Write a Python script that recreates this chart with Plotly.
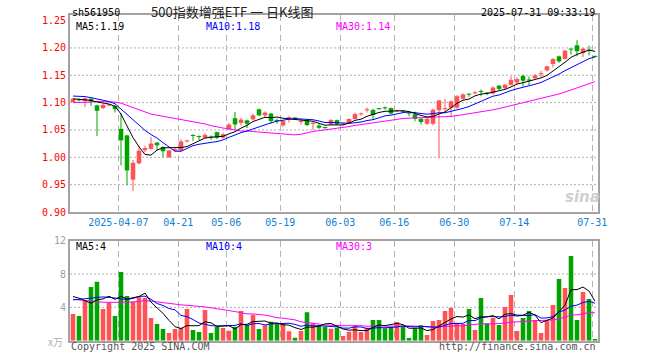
import plotly.graph_objects as go
import pandas as pd
import numpy as np

# ---------------- data ----------------
dates = ["2025-03-25","2025-03-26","2025-03-27","2025-03-28","2025-03-31",
"2025-04-01","2025-04-02","2025-04-03","2025-04-07","2025-04-08","2025-04-09","2025-04-10","2025-04-11",
"2025-04-14","2025-04-15","2025-04-16","2025-04-17","2025-04-18","2025-04-21","2025-04-22","2025-04-23",
"2025-04-24","2025-04-25","2025-04-28","2025-04-29","2025-04-30",
"2025-05-06","2025-05-07","2025-05-08","2025-05-09","2025-05-12","2025-05-13","2025-05-14","2025-05-15",
"2025-05-16","2025-05-19","2025-05-20","2025-05-21","2025-05-22","2025-05-23","2025-05-26","2025-05-27",
"2025-05-28","2025-05-29","2025-05-30",
"2025-06-03","2025-06-04","2025-06-05","2025-06-06","2025-06-09","2025-06-10","2025-06-11","2025-06-12",
"2025-06-13","2025-06-16","2025-06-17","2025-06-18","2025-06-19","2025-06-20","2025-06-23","2025-06-24",
"2025-06-25","2025-06-26","2025-06-27","2025-06-30",
"2025-07-01","2025-07-02","2025-07-03","2025-07-04","2025-07-07","2025-07-08","2025-07-09","2025-07-10",
"2025-07-11","2025-07-14","2025-07-15","2025-07-16","2025-07-17","2025-07-18","2025-07-21","2025-07-22",
"2025-07-23","2025-07-24","2025-07-25","2025-07-28","2025-07-29","2025-07-30","2025-07-31"]

opens = [1.101,1.106,1.103,1.107,1.095,1.090,1.095,1.094,1.052,1.040,
0.959,0.989,1.013,1.0155,1.027,1.019,1.000,1.012,1.0125,1.029,
1.040,1.038,1.036,1.037,1.046,1.036,1.051,1.0715,1.063,1.0676,
1.0694,1.0878,1.0767,1.080,1.0676,1.0584,1.0712,1.0715,1.0645,1.068,
1.061,1.058,1.0545,1.060,1.068,1.060,1.062,1.070,1.0785,1.086,
1.0866,1.0885,1.090,1.090,1.0845,1.0838,1.081,1.0786,1.0706,1.0614,
1.0614,1.086,1.0878,1.0908,1.0908,1.107,1.1150,1.117,1.120,1.117,
1.1165,1.131,1.1263,1.1325,1.1367,1.149,1.1410,1.1447,1.152,1.1589,
1.1705,1.1846,1.1797,1.1975,1.2049,1.1908,1.1957,1.1850]

highs = [1.108,1.108,1.109,1.109,1.096,1.097,1.098,1.096,1.080,1.041,
0.995,1.021,1.021,1.037,1.028,1.020,1.013,1.017,1.033,1.032,
1.042,1.040,1.044,1.040,1.047,1.045,1.063,1.083,1.072,1.069,
1.080,1.089,1.084,1.081,1.0706,1.068,1.0755,1.073,1.0705,1.0695,
1.065,1.062,1.0555,1.070,1.069,1.063,1.071,1.082,1.082,1.091,
1.089,1.090,1.093,1.091,1.087,1.0855,1.083,1.0835,1.071,1.071,
1.089,1.105,1.107,1.104,1.114,1.117,1.117,1.121,1.124,1.119,
1.130,1.132,1.134,1.148,1.1465,1.151,1.148,1.152,1.158,1.168,
1.1815,1.186,1.196,1.1988,1.2141,1.200,1.2043,1.186]

lows = [1.100,1.102,1.092,1.094,1.039,1.088,1.093,1.082,0.985,0.949,
0.938,0.987,1.009,1.014,1.013,1.000,0.999,1.010,1.011,1.027,
1.030,1.031,1.034,1.032,1.033,1.034,1.050,1.051,1.058,1.0535,
1.0676,1.0755,1.0737,1.0614,1.0614,1.0553,1.0635,1.069,1.060,1.057,
1.050,1.052,1.052,1.059,1.059,1.058,1.061,1.069,1.076,1.082,
1.068,1.087,1.087,1.0785,1.083,1.081,1.075,1.066,1.060,1.059,
1.058,0.999,1.085,1.0737,1.089,1.105,1.1105,1.115,1.1116,1.1135,
1.115,1.123,1.124,1.131,1.1325,1.1294,1.132,1.1435,1.146,1.157,
1.1644,1.1724,1.179,1.1877,1.1846,1.1834,1.1865,1.182]

closes = [1.107,1.104,1.108,1.102,1.085,1.096,1.0955,1.088,1.031,0.976,
0.990,1.012,1.017,1.025,1.022,1.011,1.0125,1.015,1.029,1.0305,
1.039,1.037,1.041,1.036,1.036,1.042,1.060,1.060,1.069,1.0614,
1.0767,1.0767,1.0818,1.0664,1.0663,1.0663,1.0722,1.0710,1.0655,1.059,
1.0615,1.054,1.0535,1.068,1.060,1.0605,1.070,1.079,1.079,1.0866,
1.0774,1.088,1.0895,1.080,1.085,1.0832,1.080,1.0706,1.0645,1.0706,
1.087,1.104,1.089,1.1024,1.1116,1.115,1.1145,1.118,1.1195,1.1165,
1.1275,1.125,1.1325,1.1417,1.143,1.140,1.1404,1.1497,1.1527,1.1662,
1.1797,1.1754,1.1951,1.1969,1.1939,1.1988,1.1951,1.1835]

# volume in 10k lots
volumes = [3.2,2.96,4.8,6.44,7.08,3.8,4.56,2.96,8.24,5.36,
4.68,5.2,5.12,2.72,2.0,1.4,0.92,1.4,1.56,3.8,
1.28,1.04,3.68,0.92,1.68,1.52,1.2,1.68,3.56,1.88,
3.12,1.4,1.84,2.28,2.0,2.08,1.12,0.36,1.16,3.4,
2.08,1.76,1.68,1.44,1.56,0.56,1.08,1.84,1.04,1.56,
2.48,2.48,1.48,1.68,2.24,1.76,0.32,1.48,1.84,0.68,
2.36,2.48,3.56,3.96,2.16,2.0,3.8,1.28,5.12,2.08,
2.76,1.88,4.04,5.48,1.16,2.72,3.56,2.48,0.92,2.4,
4.28,7.4,6.32,10.16,2.48,5.84,5.0,0.2]

# moving-average values before the window is full
ma5_head = [1.107, 1.106, 1.105, 1.104]
ma10_head = [1.112, 1.112, 1.111, 1.109, 1.107, 1.104, 1.102, 1.098, 1.088]
ma30_head = [1.100,1.100,1.101,1.101,1.102,1.102,1.102,1.101,1.099,1.095,
             1.091,1.087,1.083,1.079,1.077,1.075,1.073,1.0715,1.070,1.067,
             1.0655,1.064,1.061,1.058,1.0555,1.0535,1.052,1.0495,1.048]
vma5_head = [5.3, 5.1, 4.8, 4.5]
vma10_head = [4.9, 4.95, 5.0, 5.1, 5.2, 5.25, 5.2, 5.1, 4.95]
vma30_head = [4.96,4.92,4.84,4.76,4.65,4.6,4.6,4.6,4.6,4.6,
              4.65,4.72,4.8,4.75,4.65,4.55,4.42,4.35,4.3,4.25,
              4.2,4.1,4.05,3.95,3.85,3.7,3.6,3.5,3.35]

tick_dates = ["2025-04-07","2025-04-21","2025-05-06","2025-05-19","2025-06-03",
              "2025-06-16","2025-06-30","2025-07-14","2025-07-31"]
tick_labels = ["2025-04-07","04-21","05-06","05-19","06-03","06-16","06-30","07-14","07-31"]
price_ticks = [0.90, 0.95, 1.00, 1.05, 1.10, 1.15, 1.20, 1.25]
price_grid = [0.95, 1.00, 1.05, 1.10, 1.15, 1.20]
vol_ticks = [4, 8, 12]
vol_grid = [4, 8]

# ---------------- helpers ----------------
def moving(vals, n, head):
    s = pd.Series(vals, dtype=float).rolling(n).mean().to_numpy()
    s[:n - 1] = head
    return s

FW, FH = 660, 360
L, R = 70, 598
PT, PB = 15, 212
VT, VB = 240.7, 340.7
def px(sx): return sx / FW
def py(sy): return (FH - sy) / FH

RED = "#ff5252"
GREEN = "#00a400"
MONO = "DejaVu Sans Mono"

n = len(dates)
idx = list(range(n))
up = [c >= o for o, c in zip(opens, closes)]
colors = [RED if u else GREEN for u in up]

ma5 = moving(closes, 5, ma5_head)
ma10 = moving(closes, 10, ma10_head)
ma30 = moving(closes, 30, ma30_head)
vma5 = moving(volumes, 5, vma5_head)
vma10 = moving(volumes, 10, vma10_head)
vma30 = moving(volumes, 30, vma30_head)

fig = go.Figure()

# wicks
for flag, col in ((True, RED), (False, GREEN)):
    wx, wy = [], []
    for i in idx:
        if up[i] == flag:
            wx += [i, i, None]
            wy += [lows[i], highs[i], None]
    fig.add_trace(go.Scatter(x=wx, y=wy, mode="lines", line=dict(color=col, width=1),
                             hoverinfo="skip", showlegend=False, xaxis="x", yaxis="y"))

# bodies
body_base = [min(o, c) for o, c in zip(opens, closes)]
body_h = [max(abs(c - o), 0.0019) for o, c in zip(opens, closes)]
fig.add_trace(go.Bar(x=idx, y=body_h, base=body_base, width=0.76,
                     marker=dict(color=colors, line=dict(width=0)),
                     showlegend=False, xaxis="x", yaxis="y"))

for arr, col in ((ma30, "#ff00ff"), (ma10, "#0000ff"), (ma5, "#000000")):
    fig.add_trace(go.Scatter(x=idx, y=arr, mode="lines", line=dict(color=col, width=1),
                             showlegend=False, xaxis="x", yaxis="y"))

# volume
fig.add_trace(go.Bar(x=idx, y=volumes, width=0.76,
                     marker=dict(color=colors, line=dict(width=0)),
                     showlegend=False, xaxis="x2", yaxis="y2"))
for arr, col in ((vma30, "#ff00ff"), (vma10, "#0000ff"), (vma5, "#000000")):
    fig.add_trace(go.Scatter(x=idx, y=arr, mode="lines", line=dict(color=col, width=1),
                             showlegend=False, xaxis="x2", yaxis="y2"))

tickvals = [dates.index(d) - 0.45 for d in tick_dates]
axis_common = dict(showline=True, mirror=True, linecolor="#a3a3a3", linewidth=2,
                   zeroline=False, fixedrange=True, ticks="", automargin=False)
xcommon = dict(range=[-0.5, n - 0.5], tickvals=tickvals, showgrid=True,
               gridcolor="#b4b4b4", gridwidth=1, griddash="6px,4px",
               domain=[px(L), px(R)], **axis_common)

shapes = []
for g in price_grid:
    shapes.append(dict(type="line", xref="x domain", yref="y", x0=0, x1=1, y0=g, y1=g,
                       line=dict(color="#b0b0b0", width=1, dash="2px,2px"), layer="below"))
for g in vol_grid:
    shapes.append(dict(type="line", xref="x2 domain", yref="y2", x0=0, x1=1, y0=g, y1=g,
                       line=dict(color="#b0b0b0", width=1, dash="2px,2px"), layer="below"))

def txt(x, y, s, color="#000000", size=10, xanchor="left", family=MONO, **kw):
    return dict(x=px(x), y=py(y), xref="paper", yref="paper", text=s, showarrow=False,
                xanchor=xanchor, yanchor="middle", font=dict(family=family, size=size, color=color, **kw))

annotations = [
    txt(70, 12.5, "sh561950"),
    txt(232, 11.5, "500指数增强ETF 一 日K线图", color="#222222", size=13,
        xanchor="center", family="Noto Sans CJK SC"),
    txt(597, 12.5, "2025-07-31 09:33:19", xanchor="right"),
    txt(74, 26.5, "MA5:%.2f" % ma5[-1]),
    txt(204, 26.5, "MA10:%.2f" % ma10[-1], color="#0000ff"),
    txt(334, 26.5, "MA30:%.2f" % ma30[-1], color="#ff00ff"),
    txt(74, 246, "MA5:%d" % int(vma5[-1])),
    txt(204, 246, "MA10:%d" % int(vma10[-1]), color="#0000ff"),
    txt(334, 246, "MA30:%d" % int(vma30[-1]), color="#ff00ff"),
    txt(69, 346, "Copyright 2025 SINA.COM", color="#555555"),
    txt(598, 346, "http://finance.sina.com.cn", color="#555555", xanchor="right"),
    txt(65, 341, "x万", color="#b0b0b0", size=10, xanchor="right", family="Noto Sans CJK SC"),
    txt(582, 197, "sina", color="#d0d0d0", size=15, xanchor="center", family="DejaVu Sans",
        style="italic", weight="bold"),
]

fig.update_layout(
    template="none",
    width=FW, height=FH, margin=dict(l=0, r=0, t=0, b=0, pad=0, autoexpand=False),
    paper_bgcolor="white", plot_bgcolor="white", barmode="overlay",
    showlegend=False, hovermode=False,
    xaxis=dict(anchor="y", ticktext=tick_labels, showticklabels=True,
               tickfont=dict(family=MONO, size=10, color="#1380d0"), **xcommon),
    yaxis=dict(anchor="x", domain=[py(PB), py(PT)], range=[0.90, 1.2602],
               tickvals=price_ticks, ticktext=["%.2f" % v for v in price_ticks],
               tickfont=dict(family=MONO, size=10, color="#ff0000"), showgrid=False,
               **axis_common),
    xaxis2=dict(anchor="y2", showticklabels=False, **xcommon),
    yaxis2=dict(anchor="x2", domain=[py(VB), py(VT)], range=[0, 12],
                tickvals=vol_ticks, ticktext=[str(v) for v in vol_ticks],
                tickfont=dict(family=MONO, size=10, color="#a0a0a0"), showgrid=False,
                **axis_common),
    shapes=shapes, annotations=annotations,
)

# remove the default 8px page margin so the 660x360 figure fills the window exactly
fig.write_html("out.html", config={"displayModeBar": False, "staticPlot": True},
               post_script="document.body.style.margin='0px';")
